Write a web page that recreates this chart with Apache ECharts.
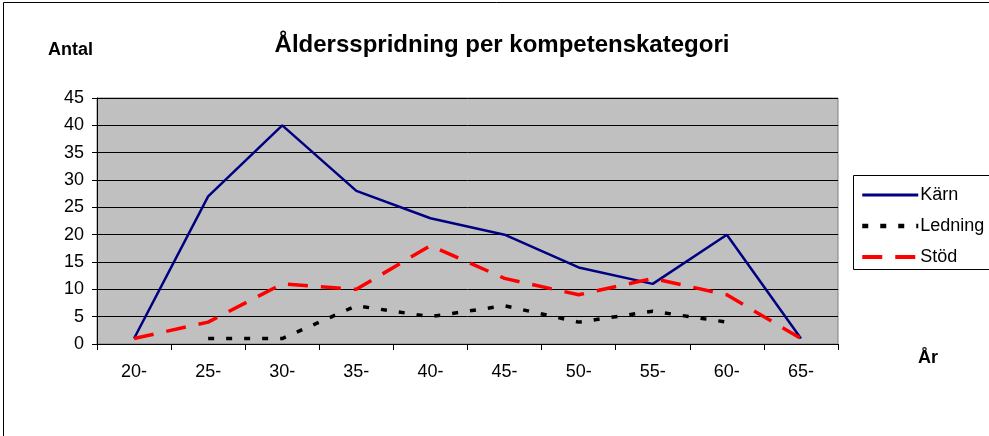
<!DOCTYPE html>
<html><head><meta charset="utf-8">
<script src="https://cdn.jsdelivr.net/npm/echarts@6/dist/echarts.min.js"></script>
<style>html,body{margin:0;padding:0;background:#fff}#c{width:989px;height:436px}</style>
</head><body><div id="c"></div>
<script>
var categories = ['20-','25-','30-','35-','40-','45-','50-','55-','60-','65-'];
var karn = [1,27,40,28,23,20,14,11,20,1];
var ledning = [null,1,1,7,5,7,4,6,4,null];
var stod = [1,4,11,10,18,12,9,12,9,1];
var yTicks = {min:0,max:45,interval:5};

var font = '"Liberation Sans", Arial, sans-serif';
var chart = echarts.init(document.getElementById('c'), null, {renderer:'canvas'});
chart.setOption({
  animation:false,
  backgroundColor:'#fff',
  textStyle:{fontFamily:font},
  title:{text:'Åldersspridning per kompetenskategori',left:497,textAlign:'center',top:28,
    textStyle:{fontFamily:font,fontSize:24,fontWeight:'bold',color:'#000'}},
  graphic:[
    {type:'rect',shape:{x:3.5,y:2.5,width:1000,height:500},style:{fill:null,stroke:'#000',lineWidth:1},silent:true},
    {type:'rect',shape:{x:853.5,y:175.5,width:200,height:94},style:{fill:'#fff',stroke:'#000',lineWidth:1},silent:true,z:-1},
    {type:'text',left:48,top:41,style:{text:'Antal',font:'bold 18px '+font,fill:'#000'}},
    {type:'text',left:918,top:349,style:{text:'År',font:'bold 18px '+font,fill:'#000'}}
  ],
  legend:{orient:'vertical',left:855,top:181,itemWidth:56,itemHeight:12,itemGap:13,
    itemStyle:{opacity:0},
    textStyle:{fontFamily:font,fontSize:18,color:'#000',padding:[0,0,0,-3]},
    data:[
      {name:'Kärn',lineStyle:{width:3}},
      {name:'Ledning',lineStyle:{width:4.5}},
      {name:'Stöd',lineStyle:{width:4}}
    ]},
  grid:{left:97,top:98,width:741,height:246,show:true,backgroundColor:'#c0c0c0',borderColor:'#808080',borderWidth:1},
  xAxis:{type:'category',data:categories,boundaryGap:true,
    axisLine:{lineStyle:{color:'#000',width:1}},
    axisTick:{show:true,length:6,interval:0,lineStyle:{color:'#000'}},
    axisLabel:{fontFamily:font,fontSize:18,color:'#000',margin:19,interval:0}},
  yAxis:{type:'value',min:yTicks.min,max:yTicks.max,interval:yTicks.interval,
    axisLine:{show:true,lineStyle:{color:'#000',width:1}},
    axisTick:{show:true,length:5,lineStyle:{color:'#000'}},
    splitLine:{show:true,lineStyle:{color:'#000',width:1}},
    axisLabel:{fontFamily:font,fontSize:18,color:'#000',margin:13}},
  series:[
    {name:'Kärn',type:'line',data:karn,symbol:'none',lineStyle:{color:'#000080',width:2.5,type:'solid'},itemStyle:{color:'#000080'}},
    {name:'Ledning',type:'line',data:ledning,symbol:'none',connectNulls:false,lineStyle:{color:'#000',width:3.5,type:[6,12]},itemStyle:{color:'#000'}},
    {name:'Stöd',type:'line',data:stod,symbol:'none',lineStyle:{color:'#ff0000',width:3.5,type:[20,13]},itemStyle:{color:'#ff0000'}}
  ]
});
</script></body></html>
